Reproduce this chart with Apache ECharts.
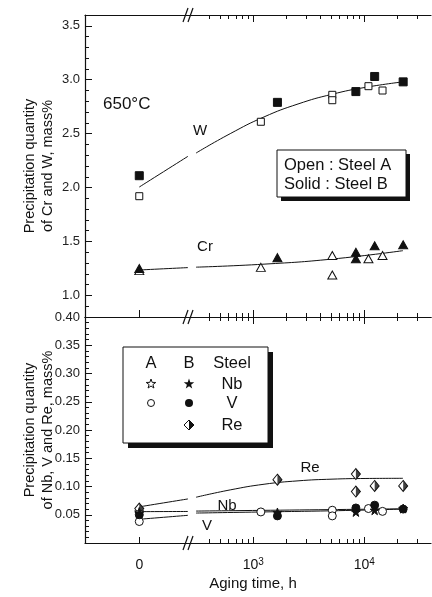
<!DOCTYPE html>
<html><head><meta charset="utf-8">
<script src="https://cdn.jsdelivr.net/npm/echarts@6/dist/echarts.min.js"></script>
<style>html,body{margin:0;padding:0;background:#fff}#c{width:432px;height:597px}</style>
</head><body><div id="c"></div>
<script>
// ---------------- data (aging time in h; 0 = as-received) ----------------
const timeW_A = [0, 1170, 5150, 5150, 10900, 14600];
const W_A     = [1.92, 2.61, 2.86, 2.81, 2.94, 2.90];
const timeW_B = [0, 1650, 8400, 12400, 22400];
const W_B     = [2.11, 2.79, 2.89, 3.03, 2.98];
const timeCr_A = [0, 1170, 5150, 5150, 10900, 14600];
const Cr_A     = [1.23, 1.26, 1.37, 1.19, 1.34, 1.37];
const timeCr_B = [0, 1650, 8400, 8400, 12400, 22400];
const Cr_B     = [1.25, 1.35, 1.40, 1.34, 1.46, 1.47];
const timeRe_B = [0, 1650, 8400, 8400, 12400, 22400];
const Re_B     = [0.061, 0.112, 0.122, 0.091, 0.101, 0.101];
const timeV_A = [0, 1170, 5150, 5150, 10900, 14600];
const V_A     = [0.038, 0.055, 0.058, 0.048, 0.061, 0.056];
const timeV_B = [0, 1650, 8400, 12400, 22400];
const V_B     = [0.050, 0.048, 0.062, 0.067, 0.060];
const timeNb_A = [0];
const Nb_A     = [0.055];
const timeNb_B = [0, 1650, 8400, 12400, 22400];
const Nb_B     = [0.053, 0.054, 0.055, 0.058, 0.061];
// fitted curves: segment before the axis break / after the break
const fitW_t1 = [0, 258],  fitW_1 = [2.005, 2.29];
const fitW_t2 = [305, 620, 1250, 2530, 5120, 10350, 22300], fitW_2 = [2.32, 2.50, 2.655, 2.775, 2.865, 2.93, 2.98];
const fitCr_t1 = [0, 258], fitCr_1 = [1.236, 1.258];
const fitCr_t2 = [305, 1250, 5120, 22300], fitCr_2 = [1.262, 1.29, 1.337, 1.415];
const fitRe_t1 = [0, 258], fitRe_1 = [0.064, 0.078];
const fitRe_t2 = [305, 620, 1250, 2530, 5120, 10350, 22300], fitRe_2 = [0.081, 0.094, 0.104, 0.110, 0.113, 0.1142, 0.1145];
const fitNb_t1 = [0, 258], fitNb_1 = [0.0555, 0.0558];
const fitNb_t2 = [305, 22300], fitNb_2 = [0.0565, 0.0605];
const fitV_t1 = [0, 258], fitV_1 = [0.042, 0.049];
const fitV_t2 = [305, 1250, 5120, 22300], fitV_2 = [0.053, 0.055, 0.057, 0.060];
// tick labels
const xMajorTimes = [1000, 10000];
const xMinorTimes = [400, 500, 600, 700, 800, 900, 2000, 3000, 4000, 5000, 6000, 7000, 8000, 9000, 20000, 30000, 40000];
const yTopLabels = [1.0, 1.5, 2.0, 2.5, 3.0, 3.5];
const yBotLabels = [0.05, 0.10, 0.15, 0.20, 0.25, 0.30, 0.35, 0.40];

// ---------------- scale helpers (broken log axis) ----------------
const ZERO_POS = 1.973, X_MIN = 1.484, X_MAX = 4.601;
const pos = t => t === 0 ? ZERO_POS : Math.log10(t);
const pts = (ts, vs) => ts.map((t, i) => [pos(t), vs[i]]);
const FONT = 'Liberation Sans, Arial, sans-serif';
const K = '#111';

const range = (a, b, s) => { const r = []; for (let v = a; v <= b + 1e-9; v += s) r.push(+v.toFixed(4)); return r; };
const yTopMinor = range(0.8, 3.6, 0.1).filter(v => !yTopLabels.some(m => Math.abs(m - v) < 1e-6));
const yBotMinor = range(0.0, 0.4, 0.01).filter(v => !yBotLabels.some(m => Math.abs(m - v) < 1e-6));

function xAx(grid, position, vals, len, showLine, labels) {
  return {
    type: 'value', gridIndex: grid, position: position, min: X_MIN, max: X_MAX,
    axisLine: {show: showLine, onZero: false, lineStyle: {color: K, width: 1.2}},
    axisTick: {show: true, inside: true, length: len, customValues: vals, lineStyle: {color: K, width: 1}},
    axisLabel: labels ? {
      show: true, customValues: vals, margin: 14, color: K, fontFamily: FONT, fontSize: 14,
      formatter: v => Math.abs(v - ZERO_POS) < 1e-6 ? '{b|0}' : '{b|10}{s|' + Math.round(v) + '}',
      rich: {b: {fontSize: 14, fontFamily: FONT, color: K, lineHeight: 16},
             s: {fontSize: 10, fontFamily: FONT, color: K, verticalAlign: 'top', lineHeight: 10}}
    } : {show: false},
    splitLine: {show: false}
  };
}
function yAx(grid, min, max, vals, len, showLine, labels, dec) {
  return {
    type: 'value', gridIndex: grid, position: 'left', min: min, max: max,
    axisLine: {show: showLine, lineStyle: {color: K, width: 1.2}},
    axisTick: {show: true, inside: true, length: len, customValues: vals, lineStyle: {color: K, width: 1}},
    axisLabel: labels ? {show: true, customValues: vals, margin: 5, color: '#222', fontFamily: FONT, fontSize: 13,
      formatter: v => v.toFixed(dec)} : {show: false},
    splitLine: {show: false}
  };
}
const majX = xMajorTimes.map(pos);
const minX = xMinorTimes.map(pos);

function scat(name, data, xi, yi, symbol, size, filled, extra) {
  return Object.assign({
    type: 'scatter', name: name, xAxisIndex: xi, yAxisIndex: yi, data: data, symbol: symbol, symbolSize: size,
    itemStyle: {color: filled ? K : '#fff', borderColor: K, borderWidth: 1, opacity: 1}, z: 5, silent: true
  }, extra || {});
}
function curve(data, xi, yi) {
  return {type: 'line', data: data, xAxisIndex: xi, yAxisIndex: yi, smooth: 0.5,
    showSymbol: false, symbol: 'none', lineStyle: {color: K, width: 1}, z: 3, silent: true};
}
const STAR = 'path://M50,0 L61.8,35.3 L98.9,35.3 L69,57.2 L80.4,92.7 L50,70.6 L19.6,92.7 L31,57.2 L1.1,35.3 L38.2,35.3 Z';
const HALF = 'path://M0,0 L1,1 L0,2 Z';

const option = {
  animation: false,
  backgroundColor: '#fff',
  grid: [
    {left: 85, top: 15, width: 346, height: 302},
    {left: 85, top: 317, width: 346, height: 226}
  ],
  xAxis: [
    xAx(0, 'bottom', [ZERO_POS].concat(majX), 7, true, false),
    xAx(0, 'bottom', minX, 4, false, false),
    xAx(0, 'top', majX, 7, true, false),
    xAx(0, 'top', minX, 4, false, false),
    xAx(1, 'bottom', [ZERO_POS].concat(majX), 6, true, true),
    xAx(1, 'bottom', minX, 4, false, false),
    xAx(1, 'top', majX, 7, true, false),
    xAx(1, 'top', minX, 4, false, false)
  ],
  yAxis: [
    yAx(0, 0.8, 3.6, yTopLabels, 7, true, true, 1),
    yAx(0, 0.8, 3.6, yTopMinor, 4, false, false, 1),
    yAx(1, 0, 0.4, yBotLabels, 7, true, true, 2),
    yAx(1, 0, 0.4, yBotMinor, 4, false, false, 2)
  ],
  series: [
    curve(pts(fitW_t1, fitW_1), 0, 0), curve(pts(fitW_t2, fitW_2), 0, 0),
    curve(pts(fitCr_t1, fitCr_1), 0, 0), curve(pts(fitCr_t2, fitCr_2), 0, 0),
    curve(pts(fitRe_t1, fitRe_1), 4, 2), curve(pts(fitRe_t2, fitRe_2), 4, 2),
    curve(pts(fitNb_t1, fitNb_1), 4, 2), curve(pts(fitNb_t2, fitNb_2), 4, 2),
    curve(pts(fitV_t1, fitV_1), 4, 2), curve(pts(fitV_t2, fitV_2), 4, 2),
    scat('W A', pts(timeW_A, W_A), 0, 0, 'rect', 7, false),
    scat('W B', pts(timeW_B, W_B), 0, 0, 'rect', 8, true),
    scat('Cr A', pts(timeCr_A, Cr_A), 0, 0, 'triangle', [9, 8], false),
    scat('Cr B', pts(timeCr_B, Cr_B), 0, 0, 'triangle', [9, 8], true),
    scat('Re B', pts(timeRe_B, Re_B), 4, 2, 'diamond', [9, 11], false),
    scat('Re B half', pts(timeRe_B, Re_B), 4, 2, HALF, [4.5, 11], true, {symbolOffset: [2.25, 0], itemStyle: {color: K, borderWidth: 0}, z: 6}),
    scat('V A', pts(timeV_A, V_A), 4, 2, 'circle', 8, false),
    scat('V B', pts(timeV_B, V_B), 4, 2, 'circle', 8, true),
    scat('Nb A', pts(timeNb_A, Nb_A), 4, 2, STAR, 9, false),
    scat('Nb B', pts(timeNb_B, Nb_B), 4, 2, STAR, 9, true)
  ],
  graphic: []
};

// decorations: axis-break marks, legends, curve labels, axis titles
const g = option.graphic;
[15, 317, 543].forEach(y => {
  [186, 191].forEach(x => g.push({type: 'line', shape: {x1: x - 3, y1: y + 7, x2: x + 2, y2: y - 7},
    style: {stroke: K, lineWidth: 1.2}, z: 100}));
});
const txt = (s, x, y, size, align, rot) => g.push({type: 'text', x: x, y: y, z: 100, rotation: rot || 0,
  style: {text: s, fill: K, font: size + 'px ' + FONT, textAlign: align || 'center', textVerticalAlign: 'middle', lineHeight: 18}});
txt('Precipitation quantity\nof Cr and W, mass%', 39, 166, 14.5, 'center', Math.PI / 2);
txt('Precipitation quantity\nof Nb, V and Re, mass%', 39, 430, 14.5, 'center', Math.PI / 2);
txt('650°C', 103, 104, 17, 'left');
txt('W', 200, 131, 15);
txt('Cr', 205, 247, 15);
txt('Re', 310, 468, 15);
txt('Nb', 227, 506, 15);
txt('V', 207, 526, 15);
txt('Aging time, h', 253, 584, 15);
// top legend box
g.push({type: 'rect', shape: {x: 281, y: 154, width: 129, height: 47}, style: {fill: K}, z: 90});
g.push({type: 'rect', shape: {x: 277, y: 150, width: 129, height: 47}, style: {fill: '#fff', stroke: K, lineWidth: 1}, z: 91});
txt('Open : Steel A', 284, 165, 16.5, 'left');
txt('Solid : Steel B', 284, 184, 16.5, 'left');
// bottom legend box
g.push({type: 'rect', shape: {x: 128, y: 352, width: 145, height: 96}, style: {fill: K}, z: 90});
g.push({type: 'rect', shape: {x: 123, y: 347, width: 145, height: 96}, style: {fill: '#fff', stroke: K, lineWidth: 1}, z: 91});
txt('A', 151, 363, 16.5); txt('B', 189, 363, 16.5); txt('Steel', 232, 363, 16.5);
txt('Nb', 232, 384, 16.5); txt('V', 232, 403, 16.5); txt('Re', 232, 425, 16.5);
function starPts(cx, cy, R) { const p = []; for (let k = 0; k < 10; k++) { const r = k % 2 ? R * 0.4 : R; const a = (-90 + k * 36) * Math.PI / 180; p.push([cx + r * Math.cos(a), cy + r * Math.sin(a)]); } return p; }
g.push({type: 'polygon', shape: {points: starPts(151, 384, 5)}, style: {fill: '#fff', stroke: K, lineWidth: 1}, z: 95});
g.push({type: 'polygon', shape: {points: starPts(189, 384, 5.5)}, style: {fill: K}, z: 95});
g.push({type: 'circle', shape: {cx: 151, cy: 403, r: 3.5}, style: {fill: '#fff', stroke: K, lineWidth: 1}, z: 95});
g.push({type: 'circle', shape: {cx: 189, cy: 403, r: 4}, style: {fill: K}, z: 95});
g.push({type: 'polygon', shape: {points: [[189, 420], [194, 425], [189, 430], [184, 425]]}, style: {fill: '#fff', stroke: K, lineWidth: 1}, z: 95});
g.push({type: 'polygon', shape: {points: [[189, 420], [194, 425], [189, 430]]}, style: {fill: K}, z: 96});

const chart = echarts.init(document.getElementById('c'), null, {renderer: 'canvas'});
chart.setOption(option);
</script>
</body></html>
